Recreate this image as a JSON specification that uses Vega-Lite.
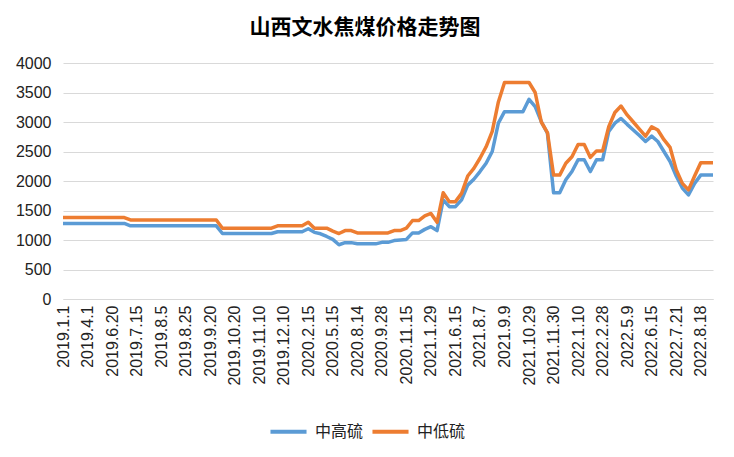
{
  "$schema": "https://vega.github.io/schema/vega-lite/v6.json",
  "width": 650,
  "height": 236,
  "padding": {"left": 15, "top": 17, "right": 18, "bottom": 10},
  "background": "white",
  "title": {
    "text": "山西文水焦煤价格走势图",
    "font": "Noto Sans CJK SC",
    "fontSize": 21,
    "fontWeight": "bold",
    "color": "#000000",
    "frame": "bounds",
    "offset": 17
  },
  "data": {
    "values": [
      {"d": "2019.1.1", "i": 0, "中高硫": 1280, "中低硫": 1380},
      {"d": "2019.1.20", "i": 1, "中高硫": 1280, "中低硫": 1380},
      {"d": "2019.2.20", "i": 2, "中高硫": 1280, "中低硫": 1380},
      {"d": "2019.3.10", "i": 3, "中高硫": 1280, "中低硫": 1380},
      {"d": "2019.4.1", "i": 4, "中高硫": 1280, "中低硫": 1380},
      {"d": "2019.4.20", "i": 5, "中高硫": 1280, "中低硫": 1380},
      {"d": "2019.5.10", "i": 6, "中高硫": 1280, "中低硫": 1380},
      {"d": "2019.6.1", "i": 7, "中高硫": 1280, "中低硫": 1380},
      {"d": "2019.6.20", "i": 8, "中高硫": 1280, "中低硫": 1380},
      {"d": "2019.6.27", "i": 9, "中高硫": 1280, "中低硫": 1380},
      {"d": "2019.7.3", "i": 10, "中高硫": 1280, "中低硫": 1380},
      {"d": "2019.7.9", "i": 11, "中高硫": 1240, "中低硫": 1340},
      {"d": "2019.7.15", "i": 12, "中高硫": 1240, "中低硫": 1340},
      {"d": "2019.7.20", "i": 13, "中高硫": 1240, "中低硫": 1340},
      {"d": "2019.7.25", "i": 14, "中高硫": 1240, "中低硫": 1340},
      {"d": "2019.7.30", "i": 15, "中高硫": 1240, "中低硫": 1340},
      {"d": "2019.8.5", "i": 16, "中高硫": 1240, "中低硫": 1340},
      {"d": "2019.8.10", "i": 17, "中高硫": 1240, "中低硫": 1340},
      {"d": "2019.8.15", "i": 18, "中高硫": 1240, "中低硫": 1340},
      {"d": "2019.8.20", "i": 19, "中高硫": 1240, "中低硫": 1340},
      {"d": "2019.8.25", "i": 20, "中高硫": 1240, "中低硫": 1340},
      {"d": "2019.8.30", "i": 21, "中高硫": 1240, "中低硫": 1340},
      {"d": "2019.9.5", "i": 22, "中高硫": 1240, "中低硫": 1340},
      {"d": "2019.9.12", "i": 23, "中高硫": 1240, "中低硫": 1340},
      {"d": "2019.9.20", "i": 24, "中高硫": 1240, "中低硫": 1340},
      {"d": "2019.9.27", "i": 25, "中高硫": 1240, "中低硫": 1340},
      {"d": "2019.10.5", "i": 26, "中高硫": 1110, "中低硫": 1200},
      {"d": "2019.10.12", "i": 27, "中高硫": 1110, "中低硫": 1200},
      {"d": "2019.10.20", "i": 28, "中高硫": 1110, "中低硫": 1200},
      {"d": "2019.10.25", "i": 29, "中高硫": 1110, "中低硫": 1200},
      {"d": "2019.10.30", "i": 30, "中高硫": 1110, "中低硫": 1200},
      {"d": "2019.11.5", "i": 31, "中高硫": 1110, "中低硫": 1200},
      {"d": "2019.11.10", "i": 32, "中高硫": 1110, "中低硫": 1200},
      {"d": "2019.11.20", "i": 33, "中高硫": 1110, "中低硫": 1200},
      {"d": "2019.11.27", "i": 34, "中高硫": 1110, "中低硫": 1200},
      {"d": "2019.12.3", "i": 35, "中高硫": 1140, "中低硫": 1240},
      {"d": "2019.12.10", "i": 36, "中高硫": 1140, "中低硫": 1240},
      {"d": "2019.12.20", "i": 37, "中高硫": 1140, "中低硫": 1240},
      {"d": "2020.1.5", "i": 38, "中高硫": 1140, "中低硫": 1240},
      {"d": "2020.1.15", "i": 39, "中高硫": 1140, "中低硫": 1240},
      {"d": "2020.2.15", "i": 40, "中高硫": 1190, "中低硫": 1300},
      {"d": "2020.3.10", "i": 41, "中高硫": 1130, "中低硫": 1200},
      {"d": "2020.4.1", "i": 42, "中高硫": 1105, "中低硫": 1200},
      {"d": "2020.4.20", "i": 43, "中高硫": 1060, "中低硫": 1200},
      {"d": "2020.5.15", "i": 44, "中高硫": 1010, "中低硫": 1150},
      {"d": "2020.6.10", "i": 45, "中高硫": 920, "中低硫": 1110},
      {"d": "2020.7.5", "i": 46, "中高硫": 955, "中低硫": 1160},
      {"d": "2020.7.25", "i": 47, "中高硫": 955, "中低硫": 1160},
      {"d": "2020.8.14", "i": 48, "中高硫": 935, "中低硫": 1120},
      {"d": "2020.8.25", "i": 49, "中高硫": 935, "中低硫": 1120},
      {"d": "2020.9.5", "i": 50, "中高硫": 935, "中低硫": 1120},
      {"d": "2020.9.16", "i": 51, "中高硫": 935, "中低硫": 1120},
      {"d": "2020.9.28", "i": 52, "中高硫": 960, "中低硫": 1120},
      {"d": "2020.10.10", "i": 53, "中高硫": 960, "中低硫": 1120},
      {"d": "2020.10.22", "i": 54, "中高硫": 990, "中低硫": 1160},
      {"d": "2020.11.3", "i": 55, "中高硫": 1000, "中低硫": 1160},
      {"d": "2020.11.15", "i": 56, "中高硫": 1010, "中低硫": 1200},
      {"d": "2020.12.1", "i": 57, "中高硫": 1120, "中低硫": 1330},
      {"d": "2020.12.20", "i": 58, "中高硫": 1120, "中低硫": 1330},
      {"d": "2021.1.10", "i": 59, "中高硫": 1180, "中低硫": 1410},
      {"d": "2021.1.29", "i": 60, "中高硫": 1225, "中低硫": 1450},
      {"d": "2021.3.1", "i": 61, "中高硫": 1160, "中低硫": 1300},
      {"d": "2021.4.10", "i": 62, "中高硫": 1680, "中低硫": 1800},
      {"d": "2021.5.20", "i": 63, "中高硫": 1565, "中低硫": 1650},
      {"d": "2021.6.15", "i": 64, "中高硫": 1565, "中低硫": 1650},
      {"d": "2021.6.30", "i": 65, "中高硫": 1680, "中低硫": 1790},
      {"d": "2021.7.12", "i": 66, "中高硫": 1930, "中低硫": 2085},
      {"d": "2021.7.25", "i": 67, "中高硫": 2030, "中低硫": 2215},
      {"d": "2021.8.7", "i": 68, "中高硫": 2160, "中低硫": 2385},
      {"d": "2021.8.15", "i": 69, "中高硫": 2300, "中低硫": 2580},
      {"d": "2021.8.23", "i": 70, "中高硫": 2500, "中低硫": 2840},
      {"d": "2021.9.1", "i": 71, "中高硫": 2980, "中低硫": 3340},
      {"d": "2021.9.9", "i": 72, "中高硫": 3175, "中低硫": 3670},
      {"d": "2021.9.20", "i": 73, "中高硫": 3175, "中低硫": 3670},
      {"d": "2021.10.8", "i": 74, "中高硫": 3175, "中低硫": 3670},
      {"d": "2021.10.18", "i": 75, "中高硫": 3175, "中低硫": 3670},
      {"d": "2021.10.29", "i": 76, "中高硫": 3385, "中低硫": 3670},
      {"d": "2021.11.5", "i": 77, "中高硫": 3260, "中低硫": 3500},
      {"d": "2021.11.12", "i": 78, "中高硫": 3005, "中低硫": 3000},
      {"d": "2021.11.20", "i": 79, "中高硫": 2810, "中低硫": 2820},
      {"d": "2021.11.30", "i": 80, "中高硫": 1800, "中低硫": 2100},
      {"d": "2021.12.10", "i": 81, "中高硫": 1800, "中低硫": 2100},
      {"d": "2021.12.20", "i": 82, "中高硫": 2020, "中低硫": 2300},
      {"d": "2021.12.30", "i": 83, "中高硫": 2160, "中低硫": 2410},
      {"d": "2022.1.10", "i": 84, "中高硫": 2360, "中低硫": 2620},
      {"d": "2022.1.20", "i": 85, "中高硫": 2360, "中低硫": 2620},
      {"d": "2022.2.10", "i": 86, "中高硫": 2160, "中低硫": 2400},
      {"d": "2022.2.20", "i": 87, "中高硫": 2360, "中低硫": 2510},
      {"d": "2022.2.28", "i": 88, "中高硫": 2360, "中低硫": 2510},
      {"d": "2022.3.20", "i": 89, "中高硫": 2840, "中低硫": 2920},
      {"d": "2022.4.10", "i": 90, "中高硫": 2980, "中低硫": 3160},
      {"d": "2022.4.25", "i": 91, "中高硫": 3060, "中低硫": 3270},
      {"d": "2022.5.9", "i": 92, "中高硫": 2960, "中低硫": 3120},
      {"d": "2022.5.20", "i": 93, "中高硫": 2865, "中低硫": 3000},
      {"d": "2022.5.30", "i": 94, "中高硫": 2770, "中低硫": 2880},
      {"d": "2022.6.8", "i": 95, "中高硫": 2670, "中低硫": 2760},
      {"d": "2022.6.15", "i": 96, "中高硫": 2760, "中低硫": 2920},
      {"d": "2022.6.25", "i": 97, "中高硫": 2670, "中低硫": 2865},
      {"d": "2022.7.5", "i": 98, "中高硫": 2500, "中低硫": 2700},
      {"d": "2022.7.13", "i": 99, "中高硫": 2330, "中低硫": 2570},
      {"d": "2022.7.21", "i": 100, "中高硫": 2085, "中低硫": 2190},
      {"d": "2022.7.28", "i": 101, "中高硫": 1880, "中低硫": 1960},
      {"d": "2022.8.4", "i": 102, "中高硫": 1765, "中低硫": 1850},
      {"d": "2022.8.11", "i": 103, "中高硫": 1960, "中低硫": 2085},
      {"d": "2022.8.18", "i": 104, "中高硫": 2100, "中低硫": 2310},
      {"d": "2022.8.25", "i": 105, "中高硫": 2100, "中低硫": 2310},
      {"d": "2022.9.1", "i": 106, "中高硫": 2100, "中低硫": 2310}
    ]
  },
  "transform": [
    {"fold": ["中高硫", "中低硫"], "as": ["s", "v"]}
  ],
  "mark": {"type": "line", "strokeWidth": 3.5, "strokeJoin": "round"},
  "encoding": {
    "x": {
      "field": "d",
      "type": "ordinal",
      "sort": {"field": "i", "op": "min"},
      "scale": {"type": "point", "padding": 0},
      "axis": {
        "title": null,
        "labelAngle": -90,
        "labelFont": "Liberation Sans",
        "labelFontSize": 16,
        "labelColor": "#222222",
        "labelPadding": 6,
        "ticks": false,
        "domainColor": "#d9d9d9",
        "grid": false,
        "values": ["2019.1.1", "2019.4.1", "2019.6.20", "2019.7.15", "2019.8.5", "2019.8.25", "2019.9.20", "2019.10.20", "2019.11.10", "2019.12.10", "2020.2.15", "2020.5.15", "2020.8.14", "2020.9.28", "2020.11.15", "2021.1.29", "2021.6.15", "2021.8.7", "2021.9.9", "2021.10.29", "2021.11.30", "2022.1.10", "2022.2.28", "2022.5.9", "2022.6.15", "2022.7.21", "2022.8.18"]
      }
    },
    "y": {
      "field": "v",
      "type": "quantitative",
      "scale": {"domain": [0, 4000]},
      "axis": {
        "title": null,
        "values": [0, 500, 1000, 1500, 2000, 2500, 3000, 3500, 4000],
        "format": "d",
        "labelFont": "Liberation Sans",
        "labelFontSize": 16,
        "labelColor": "#222222",
        "labelPadding": 12,
        "ticks": false,
        "domain": false,
        "gridColor": "#d9d9d9",
        "gridWidth": 1
      }
    },
    "color": {
      "field": "s",
      "type": "nominal",
      "scale": {"domain": ["中高硫", "中低硫"], "range": ["#5b9bd5", "#ed7d31"]},
      "legend": {
        "title": null,
        "orient": "none",
        "legendX": 205,
        "legendY": 348,
        "direction": "horizontal",
        "symbolType": "stroke",
        "symbolSize": 1300,
        "symbolStrokeWidth": 4,
        "labelFont": "Noto Sans CJK SC",
        "labelFontSize": 16,
        "labelColor": "#222222",
        "labelOffset": 6,
        "columnPadding": 0
      }
    }
  },
  "config": {"view": {"stroke": null}}
}
